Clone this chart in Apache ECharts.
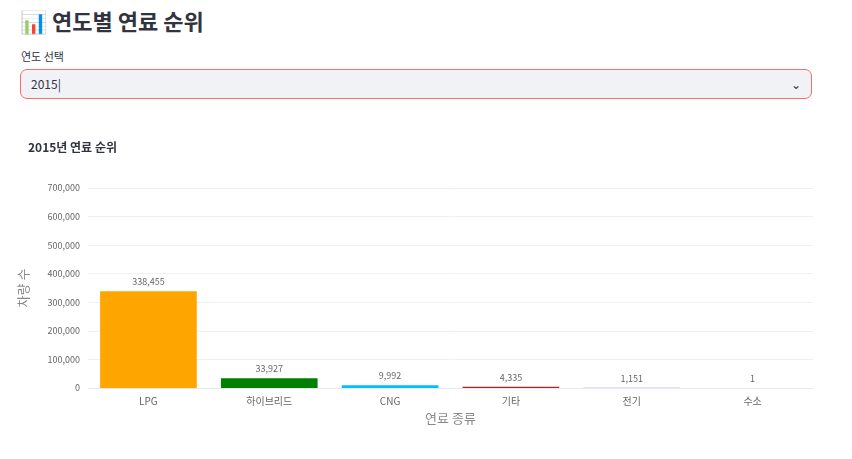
<!DOCTYPE html>
<html>
<head>
<meta charset="utf-8">
<script src="https://cdn.jsdelivr.net/npm/echarts@6/dist/echarts.min.js"></script>
<style>
  body { margin: 0; background: #fff; font-family: "Noto Sans CJK KR", "Noto Sans", sans-serif; color: #31333f; }
  #head { position: absolute; left: 20px; top: 4px; font-size: 22px; font-weight: 700; }
  #lbl { position: absolute; left: 21px; top: 48px; font-size: 11px; }
  #sel { position: absolute; left: 20px; top: 69px; width: 790px; height: 28px; border: 1px solid #ff6b6b;
         border-radius: 7px; background: #f0f2f6; font-size: 12px; line-height: 28px; box-sizing: content-box; }
  #sel span { margin-left: 10px; }
  #sel .arr { position: absolute; right: 10px; top: 0; font-size: 12px; }
  #chart { position: absolute; left: 0; top: 120px; width: 852px; height: 339px; }
</style>
</head>
<body>
<div id="head">📊 연도별 연료 순위</div>
<div id="lbl">연도 선택</div>
<div id="sel"><span>2015|</span><span class="arr">&#8964;</span></div>
<div id="chart"></div>
<script>
// Fuel ranking for the selected year
const year = 2015;
const fuelTypes = ["LPG", "하이브리드", "CNG", "기타", "전기", "수소"];
const vehicleCounts = [338455, 33927, 9992, 4335, 1151, 1];
const barColors = ["#FFA500", "#008000", "#00BFFF", "#A52A2A", "#8080FF", "#FFC0CB"];

const chart = echarts.init(document.getElementById("chart"));

const option = {
  textStyle: { fontFamily: "Noto Sans CJK KR" },
  title: {
    text: year + "년 연료 순위",
    left: 23,
    top: 16,
    textStyle: { fontSize: 12, fontWeight: "bold", color: "#31333f" },
  },
  grid: { left: 88, right: 39, top: 68, bottom: 71 },
  xAxis: {
    type: "category",
    data: fuelTypes,
    name: "연료 종류",
    nameLocation: "middle",
    nameGap: 24,
    nameTextStyle: { fontSize: 13, color: "#888" },
    axisLine: { lineStyle: { color: "#e6e9f0" } },
    axisTick: { show: false },
    axisLabel: { fontSize: 10, color: "#666", margin: 8 },
  },
  yAxis: {
    type: "value",
    min: 0,
    max: 700000,
    interval: 100000,
    name: "차량 수",
    nameLocation: "middle",
    nameGap: 58,
    nameTextStyle: { fontSize: 13, color: "#888" },
    axisLabel: {
      fontSize: 9,
      color: "#666",
      formatter: (v) => v.toLocaleString("en-US"),
    },
    splitLine: { lineStyle: { color: "#eef0f4" } },
  },
  series: [
    {
      type: "bar",
      barWidth: "80%",
      data: vehicleCounts.map((v, i) => ({ value: v, itemStyle: { color: barColors[i] } })),
      label: {
        show: true,
        position: "top",
        fontSize: 9,
        color: "#666",
        formatter: (p) => p.value.toLocaleString("en-US"),
      },
    },
  ],
};

chart.setOption(option);
</script>
</body>
</html>
